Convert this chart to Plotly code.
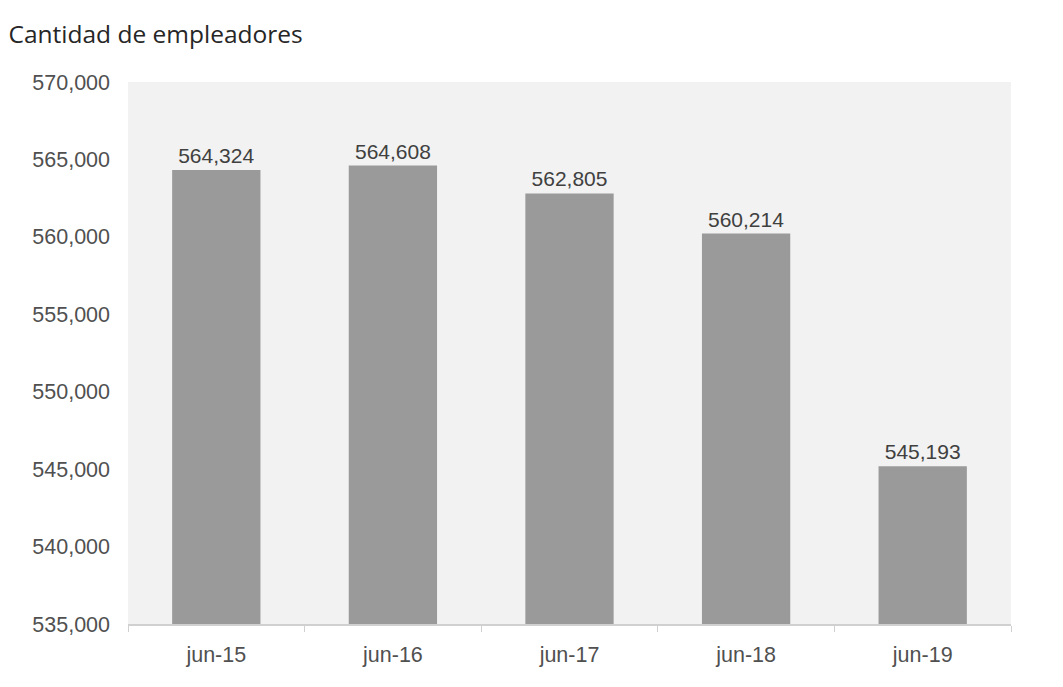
import plotly.graph_objects as go

categories = ["jun-15", "jun-16", "jun-17", "jun-18", "jun-19"]
values = [564324, 564608, 562805, 560214, 545193]
y_ticks = [535000, 540000, 545000, 550000, 555000, 560000, 565000, 570000]

fig = go.Figure(go.Bar(
    x=categories, y=values,
    marker=dict(color="#9a9a9a", line=dict(width=0)),
    text=[f"{v:,}" for v in values], textposition="outside",
    textfont=dict(family="Liberation Sans, Arial", size=21, color="#404040"),
    cliponaxis=False,
))
fig.update_layout(
    width=1063, height=687,
    margin=dict(l=128, r=52, t=82, b=63),
    paper_bgcolor="white", plot_bgcolor="#f2f2f2",
    bargap=0.5, showlegend=False,
    title=dict(text="Cantidad de empleadores", x=0.008, xanchor="left", y=0.95, yanchor="middle",
               font=dict(family="Open Sans", size=24.5, color="#262626")),
)
fig.update_xaxes(
    showline=True, linecolor="#d0d0d0", linewidth=1.5,
    ticks="outside", tickson="boundaries", ticklen=6, tickcolor="#d0d0d0",
    tickfont=dict(family="Liberation Sans, Arial", size=21.5, color="#505050"),
    showgrid=False, ticklabelstandoff=10,
)
fig.update_yaxes(
    range=[535000, 570000], tickvals=y_ticks, tickformat=",",
    showgrid=False, zeroline=False, showline=False,
    tickfont=dict(family="Liberation Sans, Arial", size=21.5, color="#505050"),
    ticklabelstandoff=17,
)
fig.write_html("out.html")
